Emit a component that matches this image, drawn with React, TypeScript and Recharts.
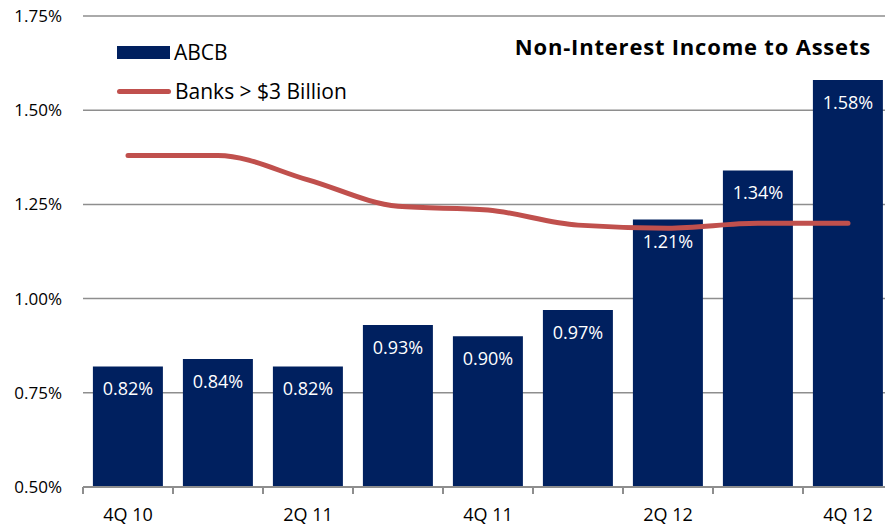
import { ComposedChart, Bar, Line, XAxis, YAxis, CartesianGrid, LabelList } from "recharts";

const quarters = ["4Q 10", "1Q 11", "2Q 11", "3Q 11", "4Q 11", "1Q 12", "2Q 12", "3Q 12", "4Q 12"];
const abcb = [0.82, 0.84, 0.82, 0.93, 0.9, 0.97, 1.21, 1.34, 1.58];
const banksOver3B = [1.38, 1.38, 1.315, 1.245, 1.235, 1.195, 1.187, 1.2, 1.2];
const yTicks = [0.5, 0.75, 1.0, 1.25, 1.5, 1.75];

const NAVY = "#00205f";
const RED = "#c0504d";
const GRID = "#8e8e8e";
const FONT = "'Open Sans', sans-serif";

const CHART_W = 895;
const CHART_H = 525;
const Y_AXIS_W = 83;
const MARGIN = { top: 16, right: 2, bottom: 0, left: 0 };
const BAND = (CHART_W - Y_AXIS_W - MARGIN.right) / quarters.length;

const data = quarters.map((q, i) => ({ q, abcb: abcb[i], banks: banksOver3B[i] }));

const pct = (v: number) => `${v.toFixed(2)}%`;

// Excel-style axis: tick marks between categories, label every other quarter
function QuarterTick(props: any) {
  const { x, y, payload, index } = props;
  const left = x - BAND / 2;
  return (
    <g>
      <line x1={left} y1={y - 8} x2={left} y2={y - 1} stroke={GRID} strokeWidth={2} />
      {index % 2 === 0 && (
        <text x={x} y={y + 26} textAnchor="middle" fontSize={18} fill="#000" fontFamily={FONT}>
          {payload.value}
        </text>
      )}
    </g>
  );
}

function ChartLegend() {
  return (
    <div style={{ position: "absolute", left: 117, top: 38, fontFamily: FONT, fontSize: 21, color: "#000", zIndex: 2 }}>
      <div style={{ display: "flex", alignItems: "center", height: 28 }}>
        <span style={{ display: "inline-block", width: 53, height: 13, background: NAVY, marginRight: 4 }} />
        ABCB
      </div>
      <div style={{ display: "flex", alignItems: "center", height: 28, marginTop: 11 }}>
        <span style={{ display: "inline-block", width: 54, height: 5, borderRadius: 3, background: RED, marginRight: 4 }} />
        Banks &gt; $3 Billion
      </div>
    </div>
  );
}

export default function App() {
  return (
    <div style={{ position: "absolute", left: 0, top: 0, width: 885, height: 525, overflow: "hidden", background: "#fff" }}>
      <div
        style={{
          position: "absolute",
          right: 14,
          top: 31,
          fontFamily: FONT,
          fontWeight: 700,
          fontSize: 22,
          letterSpacing: 0.8,
          color: "#000",
          zIndex: 2,
        }}
      >
        Non-Interest Income to Assets
      </div>
      <ChartLegend />
      <ComposedChart width={CHART_W} height={CHART_H} data={data} margin={MARGIN} barCategoryGap="11%">
        <CartesianGrid vertical={false} stroke={GRID} strokeWidth={1.5} />
        <XAxis
          dataKey="q"
          interval={0}
          height={38}
          axisLine={{ stroke: GRID, strokeWidth: 2 }}
          tickLine={false}
          tick={<QuarterTick />}
        />
        <YAxis
          width={Y_AXIS_W}
          domain={[0.5, 1.75]}
          ticks={yTicks}
          axisLine={false}
          tickLine={false}
          tickFormatter={pct}
          tick={{ fill: "#000", fontSize: 17, fontFamily: FONT }}
          tickMargin={15}
        />
        <Bar dataKey="abcb" name="ABCB" fill={NAVY} isAnimationActive={false}>
          <LabelList
            dataKey="abcb"
            position="insideTop"
            offset={16}
            formatter={(v: any) => pct(Number(v))}
            fill="#fff"
            fontSize={18}
            fontFamily={FONT}
          />
        </Bar>
        <Line
          type="monotone"
          dataKey="banks"
          name="Banks > $3 Billion"
          stroke={RED}
          strokeWidth={5}
          strokeLinecap="round"
          dot={false}
          activeDot={false}
          isAnimationActive={false}
        />
      </ComposedChart>
    </div>
  );
}
